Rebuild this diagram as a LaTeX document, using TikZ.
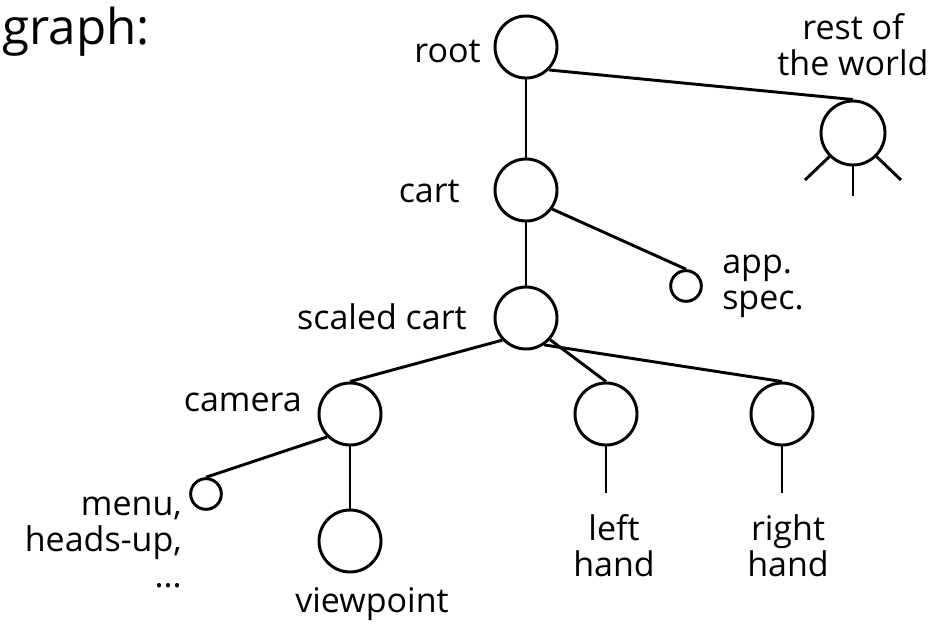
\documentclass[tikz,border=0pt]{standalone}
\usepackage{fontspec}
\setmainfont{Open Sans}
\begin{document}
\begin{tikzpicture}[x=0.75pt,y=-0.75pt,
  nd/.style={circle,draw,line width=2.2pt,minimum size=46.5pt,inner sep=0pt},
  sm/.style={circle,draw,line width=2.2pt,minimum size=23pt,inner sep=0pt},
  big/.style={circle,draw,line width=2.2pt,minimum size=48pt,inner sep=0pt},
  lbl/.style={inner sep=0pt,font=\fontsize{25.5pt}{27pt}\selectfont},
  edge/.style={line width=2.2pt}]
\useasboundingbox (0,0) rectangle (942,628);
% circles
\node[nd] (root) at (526,47) {};
\node[nd] (cart) at (526,190) {};
\node[nd] (sc) at (526,318) {};
\node[sm] (app) at (686,286) {};
\node[big] (world) at (853,133) {};
\node[nd] (cam) at (350,414) {};
\node[nd] (view) at (350,541) {};
\node[sm] (menu) at (206,494) {};
\node[nd] (lh) at (606,414) {};
\node[nd] (rh) at (782,414) {};
\coordinate (lhend) at (606,493);
\coordinate (rhend) at (782,493);
\coordinate (wl) at (805,180);
\coordinate (wm) at (853,196);
\coordinate (wr) at (901,180);
% connectors
\draw[edge] (root.south) -- (cart.north);
\draw[edge] (root.-45) -- (world.north);
\draw[edge] (cart.south) -- (sc.north);
\draw[edge] (cart.-36) -- (app.north);
\draw[edge] (sc.223) -- (cam.north);
\draw[edge] (sc.-42) -- (lh.north);
\draw[edge] (sc.-56) -- (rh.north);
\draw[edge] (cam.south) -- (view.north);
\draw[edge] (cam.225) -- (menu.north);
\draw[edge] (lh.south) -- (lhend);
\draw[edge] (rh.south) -- (rhend);
\draw[edge] (world.225) -- (wl);
\draw[edge] (world.south) -- (wm);
\draw[edge] (world.315) -- (wr);
% labels
\node[inner sep=0pt,anchor=base east,font=\fontsize{37pt}{40pt}\selectfont] (title) at (150,44) {graph:};
\node[lbl,anchor=base east] (lroot) at (481,62) {root};
\node[lbl,anchor=base east] (lcart) at (460,202) {cart};
\node[lbl,anchor=base east] (lsc) at (467,329) {scaled cart};
\node[lbl,anchor=base east] (lcam) at (302,411) {camera};
\node[lbl,anchor=base,align=center] (lworld) at (853,75) {rest of\\the world};
\node[lbl,anchor=base west,align=left] (lapp) at (722,309) {app.\\spec.};
\node[lbl,anchor=base east,align=right] (lmenu) at (182,587) {menu,\\heads-up,\\...};
\node[lbl,anchor=base,align=center] (llh) at (614,576) {left\\hand};
\node[lbl,anchor=base,align=center] (lrh) at (788,576) {right\\hand};
\node[lbl,anchor=base] (lview) at (372,612) {viewpoint};
\end{tikzpicture}
\end{document}
